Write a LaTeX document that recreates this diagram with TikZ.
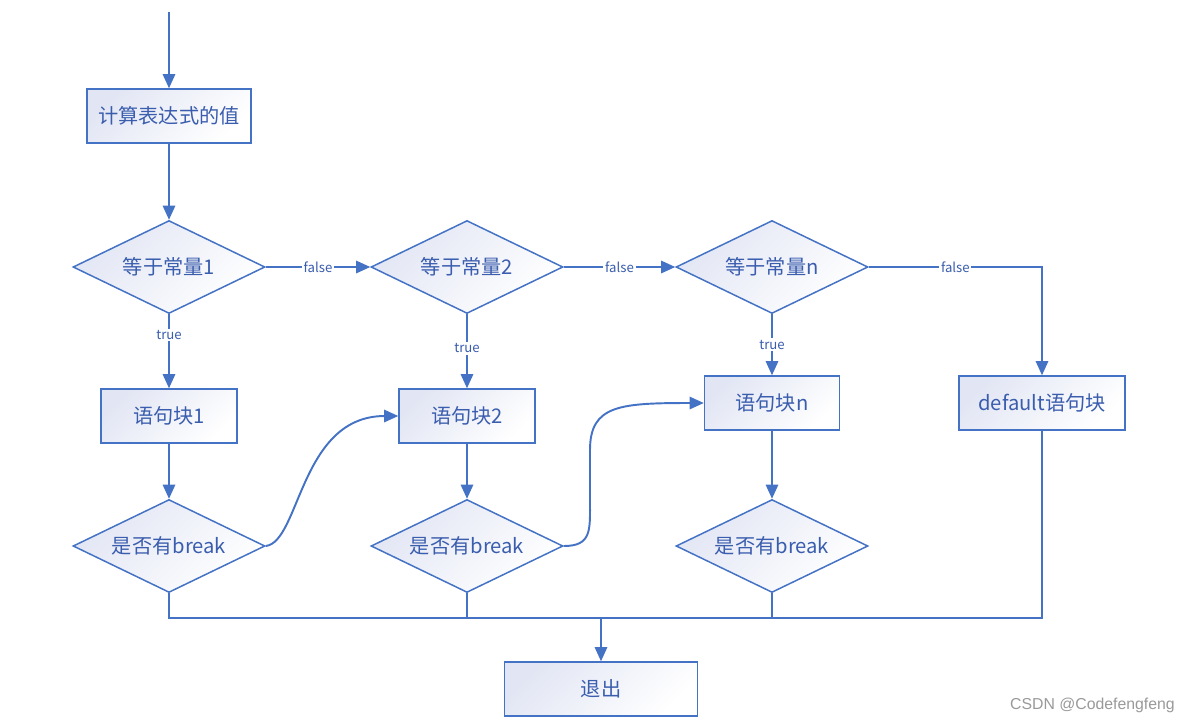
\documentclass[tikz,border=0pt]{standalone}
\usepackage{fontspec}
\setmainfont{Noto Sans CJK SC}
\newfontfamily\wmfont{Liberation Sans}
\usetikzlibrary{shapes.geometric,arrows.meta}
\definecolor{lineC}{HTML}{4472C4}
\definecolor{textC}{HTML}{3A5DAE}
\definecolor{shadeC}{HTML}{E2E6F4}
\tikzset{
  x=0.02cm, y=-0.02cm,
  fillshade/.style={top color=shadeC, bottom color=white, shading angle=45},
  boxnode/.style={draw=lineC, line width=0.85pt, fillshade, rectangle, minimum height=1.08cm, inner sep=0pt, text=textC, font=\fontsize{11.5}{13}\selectfont},
  dianode/.style={draw=lineC, line width=0.85pt, fillshade, diamond, aspect=2.06, minimum width=3.84cm, minimum height=1.86cm, inner sep=0pt, text=textC, font=\fontsize{11.5}{13}\selectfont},
  conn/.style={draw=lineC, line width=1.1pt},
  arr/.style={conn, -{Triangle[length=8pt, width=7pt]}},
  lbl/.style={fill=white, inner sep=1pt, text=textC, font=\fontsize{7.5}{9}\selectfont},
}
\begin{document}
\begin{tikzpicture}
\useasboundingbox (0,0) rectangle (1194,725);
\coordinate (start) at (169,12);
\node[boxnode, minimum width=3.28cm] (calc) at (169,116) {计算表达式的值};
\node[dianode] (c1) at (169,267) {等于常量1};
\node[dianode] (c2) at (467,267) {等于常量2};
\node[dianode] (cn) at (772,267) {等于常量n};
\node[boxnode, minimum width=2.72cm] (b1) at (169,416) {语句块1};
\node[boxnode, minimum width=2.72cm] (b2) at (467,416) {语句块2};
\node[boxnode, minimum width=2.70cm] (bn) at (772,403) {语句块n};
\node[boxnode, minimum width=3.32cm] (dflt) at (1042,403) {default语句块};
\node[dianode] (k1) at (169,546) {是否有break};
\node[dianode] (k2) at (467,546) {是否有break};
\node[dianode] (kn) at (772,546) {是否有break};
\coordinate (j) at (601,618);
\node[boxnode, minimum width=3.86cm] (exit) at (601,689) {退出};
\node[text=black!40, font=\wmfont\fontsize{9}{11}\selectfont, anchor=east] (wm) at (1181,705) {CSDN @Codefengfeng};

\draw[arr] (start) -- (calc.north);
\draw[arr] (calc.south) -- (c1.north);
\draw[arr] (c1.east) -- node[lbl] {false} (c2.west);
\draw[arr] (c2.east) -- node[lbl] {false} (cn.west);
\draw[arr] (cn.east) -| node[lbl, pos=0.25] {false} (dflt.north);
\draw[arr] (c1.south) -- node[lbl, pos=0.28] {true} (b1.north);
\draw[arr] (c2.south) -- node[lbl, pos=0.46] {true} (b2.north);
\draw[arr] (cn.south) -- node[lbl, pos=0.5] {true} (bn.north);
\draw[arr] (b1.south) -- (k1.north);
\draw[arr] (b2.south) -- (k2.north);
\draw[arr] (bn.south) -- (kn.north);
\draw[arr] (k1.east) .. controls (300,542) and (300,416) .. (b2.west);
\draw[arr] (k2.east) .. controls (592,546) and (590,530) .. (590,500) -- (590,450) .. controls (590,405) and (620,403) .. (bn.west);
\draw[conn] (k1.south) |- (j);
\draw[conn] (k2.south) |- (j);
\draw[conn] (kn.south) |- (j);
\draw[conn] (dflt.south) |- (j);
\draw[arr] (j) -- (exit.north);
\end{tikzpicture}
\end{document}
